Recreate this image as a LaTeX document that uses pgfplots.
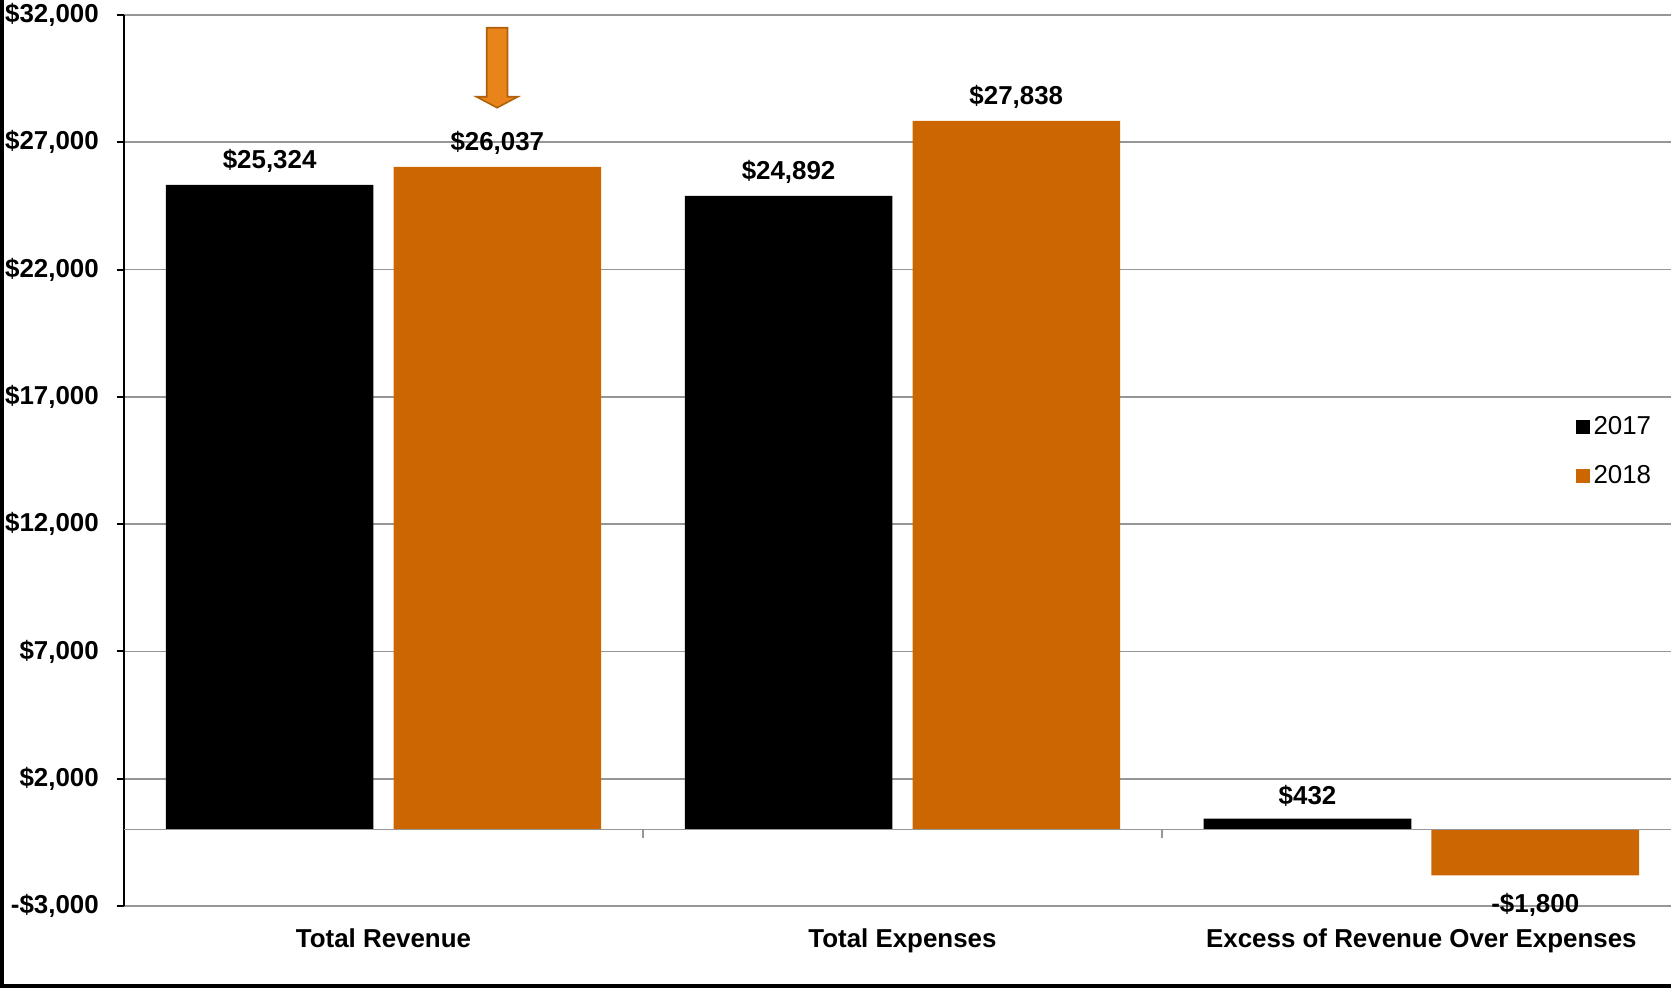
\documentclass[border=0pt]{standalone}
\usepackage{pgfplots}
\pgfplotsset{compat=1.18}
\usepackage{fontspec}
\setmainfont{Liberation Sans}
\definecolor{c2018}{RGB}{204,102,0}
\definecolor{gridgray}{RGB}{150,150,150}
\definecolor{arrowfill}{RGB}{232,132,26}
\definecolor{arrowdraw}{RGB}{176,96,10}
\newcommand\lblfont{\fontsize{13}{15}\selectfont\bfseries}
\begin{document}
\begin{tikzpicture}
\path[use as bounding box] (0,0) rectangle (835.5bp,494bp);
\begin{axis}[
  at={(62bp,41bp)}, anchor=south west,
  scale only axis, width=773.5bp, height=445.5bp,
  xmin=-0.5, xmax=2.481, ymin=-3000, ymax=32000,
  axis x line*=bottom, axis y line*=left,
  x axis line style={gridgray, line width=0.8bp, -},
  y axis line style={black, line width=1bp, -},
  xtick={0,1,2},
  xticklabels={Total Revenue, Total Expenses, Excess of Revenue Over Expenses},
  xtick style={draw=none},
  xticklabel style={font=\lblfont, yshift=-4.3bp},
  ytick={-3000,2000,...,32000},
  yticklabels={{-\$3,000},{\$2,000},{\$7,000},{\$12,000},{\$17,000},{\$22,000},{\$27,000},{\$32,000}},
  yticklabel style={font=\lblfont, xshift=-5.6bp},
  ytick style={black, line width=1bp},
  tick align=outside, major tick length=3.5bp,
  ymajorgrids, major grid style={gridgray, line width=0.8bp},
  ybar, bar width=0.400,
  point meta=explicit symbolic,
  visualization depends on={rawy \as \rawy},
  nodes near coords,
  every node near coord/.append style={font=\lblfont, inner sep=6bp, black,
    anchor=\ifdim\rawy sp<0sp north\else south\fi,
    /utils/exec={\ifdim\rawy sp<0sp \def\nshift{-2.5bp}\else\def\nshift{0bp}\fi},
    yshift=\nshift},
  legend style={at={(axis description cs:0.938,0.51)}, anchor=west, draw=none, fill=none,
    font=\fontsize{13}{15}\selectfont, inner sep=0pt, row sep=10bp, nodes={inner sep=2bp}},
  legend image code/.code={\path[#1, draw=none] (0bp,-3.5bp) rectangle (7bp,3.5bp);},
]
\addplot[fill=black, draw=none, bar shift=-0.2194] coordinates {(0,25324) [\$25,324] (1,24892) [\$24,892] (2,432) [\$432]};
\addplot[fill=c2018, draw=none, bar shift=0.2194] coordinates {(0,26037) [\$26,037] (1,27838) [\$27,838] (2,-1800) [-\$1,800]};
\legend{2017,2018}
\draw[gridgray, line width=0.8bp] (axis cs:-0.5,0) -- (axis cs:2.481,0);
\draw[gridgray, line width=0.8bp] (axis cs:0.5,0) -- ([yshift=-4bp]axis cs:0.5,0);
\draw[gridgray, line width=0.8bp] (axis cs:1.5,0) -- ([yshift=-4bp]axis cs:1.5,0);
\filldraw[fill=arrowfill, draw=arrowdraw, line width=0.8bp] (axis cs:0.199,31500) -- (axis cs:0.239,31500) -- (axis cs:0.239,28790) -- (axis cs:0.259,28790) -- (axis cs:0.219,28358) -- (axis cs:0.179,28790) -- (axis cs:0.199,28790) -- cycle;
\end{axis}
\fill[black] (0,0) rectangle (2bp,494bp);
\fill[black] (0,0) rectangle (835.5bp,2bp);
\end{tikzpicture}
\end{document}
